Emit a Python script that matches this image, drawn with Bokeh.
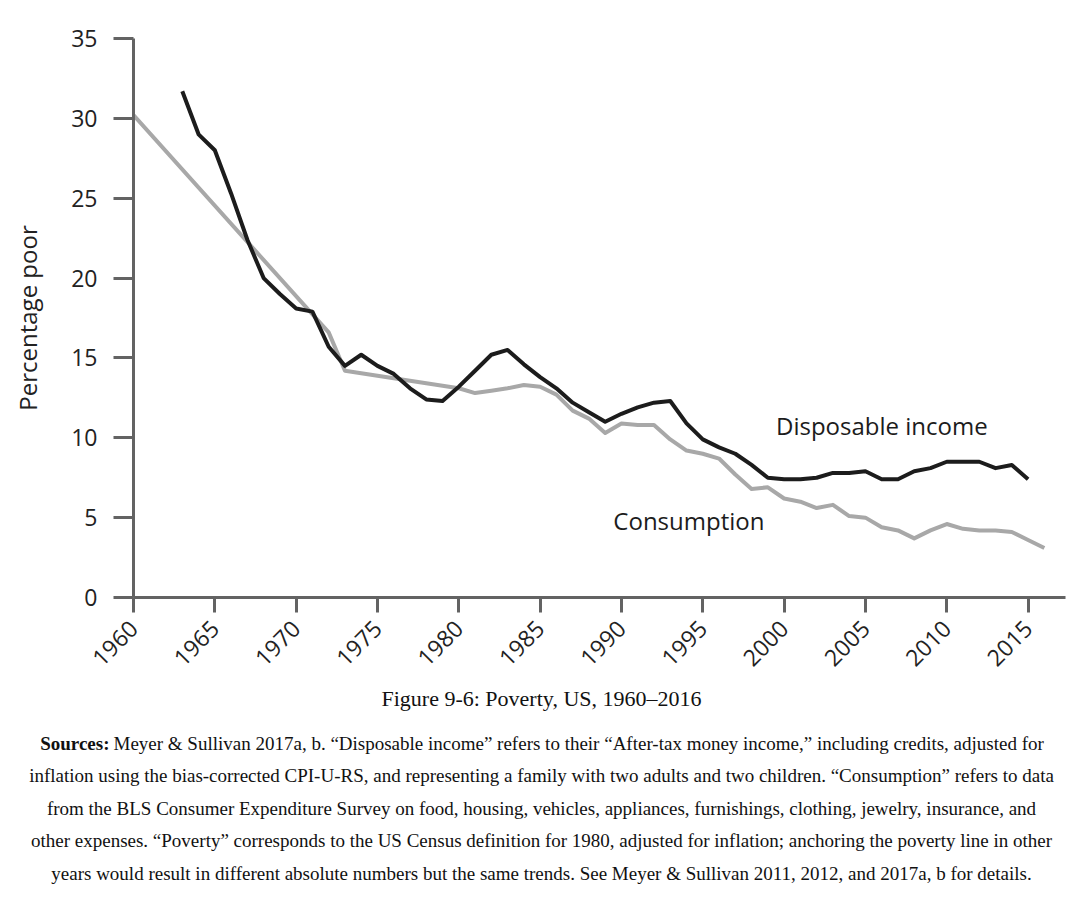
import math
from bokeh.plotting import figure
from bokeh.layouts import column
from bokeh.models import Label, FixedTicker, Range1d
from bokeh.embed import file_html
from bokeh.resources import INLINE

# ---- data ----
income_years = list(range(1963, 2016))
income = [31.7, 29.0, 28.0, 25.3, 22.4, 20.0, 19.0, 18.1, 17.9, 15.7,
          14.5, 15.2, 14.5, 14.0, 13.1, 12.4, 12.3, 13.2, 14.2, 15.2,
          15.5, 14.6, 13.8, 13.1, 12.2, 11.6, 11.0, 11.5, 11.9, 12.2,
          12.3, 10.9, 9.9, 9.4, 9.0, 8.3, 7.5, 7.4, 7.4, 7.5,
          7.8, 7.8, 7.9, 7.4, 7.4, 7.9, 8.1, 8.5, 8.5, 8.5,
          8.1, 8.3, 7.4]

consumption_years = [1960, 1972, 1973] + list(range(1980, 2017))
consumption = [30.2, 16.6, 14.2,
               13.1, 12.8, 12.95, 13.1, 13.3, 13.2, 12.7, 11.7, 11.2, 10.3,
               10.9, 10.8, 10.8, 9.9, 9.2, 9.0, 8.7, 7.7, 6.8, 6.9,
               6.2, 6.0, 5.6, 5.8, 5.1, 5.0, 4.4, 4.2, 3.7, 4.2,
               4.6, 4.3, 4.2, 4.2, 4.1, 3.6, 3.1]

x_ticks = list(range(1960, 2016, 5))
y_ticks = list(range(0, 36, 5))

caption = "Figure 9-6: Poverty, US, 1960\u20132016"
sources_bold = "Sources:"
sources_lines = [
    "Meyer & Sullivan 2017a, b. \u201cDisposable income\u201d refers to their \u201cAfter-tax money income,\u201d including credits, adjusted for",
    "inflation using the bias-corrected CPI-U-RS, and representing a family with two adults and two children. \u201cConsumption\u201d refers to data",
    "from the BLS Consumer Expenditure Survey on food, housing, vehicles, appliances, furnishings, clothing, jewelry, insurance, and",
    "other expenses. \u201cPoverty\u201d corresponds to the US Census definition for 1980, adjusted for inflation; anchoring the poverty line in other",
    "years would result in different absolute numbers but the same trends. See Meyer & Sullivan 2011, 2012, and 2017a, b for details.",
]

# ---- main chart ----
W = 1066
H1 = 680
p = figure(width=W, height=H1, output_backend="svg", toolbar_location=None,
           x_range=Range1d(1960, 2017.3), y_range=Range1d(0, 35),
           min_border_left=133, min_border_right=1,
           min_border_top=38, min_border_bottom=H1 - 597)
p.outline_line_color = None
p.grid.visible = False
p.background_fill_color = "white"
p.border_fill_color = "white"

axis_col = "#636363"
for ax in (p.xaxis[0], p.yaxis[0]):
    ax.axis_line_color = axis_col
    ax.axis_line_width = 3
    ax.major_tick_line_color = axis_col
    ax.major_tick_line_width = 3
    ax.minor_tick_line_color = None
    ax.major_tick_in = 0
    ax.major_label_text_font = "Open Sans"
    ax.major_label_text_color = "#222222"

p.xaxis.ticker = FixedTicker(ticks=x_ticks)
p.xaxis.major_tick_out = 15
p.xaxis.major_label_orientation = math.pi / 4
p.xaxis.major_label_standoff = 12
p.xaxis.major_label_text_font_size = "23px"

p.yaxis.ticker = FixedTicker(ticks=y_ticks)
p.yaxis.major_tick_out = 20
p.yaxis.major_label_standoff = 16
p.yaxis.major_label_text_font_size = "23px"
p.yaxis.axis_label = "Percentage poor"
p.yaxis.axis_label_text_font = "Open Sans"
p.yaxis.axis_label_text_font_size = "24px"
p.yaxis.axis_label_text_font_style = "normal"
p.yaxis.axis_label_text_color = "#222222"
p.yaxis.axis_label_standoff = 24

p.line(consumption_years, consumption, line_color="#a8a8a8", line_width=4,
       line_join="round")
p.line(income_years, income, line_color="#1c1c1c", line_width=4,
       line_join="round")

p.add_layout(Label(x=1999.5, y=10.8, text="Disposable income",
                   text_font="Open Sans", text_font_size="24px",
                   text_color="#1c1c1c", text_baseline="middle"))
p.add_layout(Label(x=1989.5, y=4.8, text="Consumption",
                   text_font="Open Sans", text_font_size="24px",
                   text_color="#1c1c1c", text_baseline="middle"))

# ---- caption panel: full-width frame, not aligned with the chart frame ----
H2 = 900 - H1
cap = figure(width=W, height=H2, output_backend="svg", toolbar_location=None,
             x_range=Range1d(0, W), y_range=Range1d(H2, 0),
             min_border=0, x_axis_type=None, y_axis_type=None)
cap.outline_line_color = None
cap.grid.visible = False
cap.frame_align = False

def cap_label(x, y, text, size, align="center", style="normal"):
    cap.add_layout(Label(x=x, y=y, text=text, text_font="Liberation Serif",
                         text_font_size=size, text_font_style=style,
                         text_color="#111111", text_align=align,
                         text_baseline="middle"))

cap_label(541, 18, caption, "22px")
src_y = [63, 95, 128, 160, 193]
cap_label(109, src_y[0], sources_bold, "19px", align="right", style="bold")
cap_label(113, src_y[0], sources_lines[0], "19px", align="left")
for ln, yy in zip(sources_lines[1:], src_y[1:]):
    cap_label(541, yy, ln, "19px")

layout = column(p, cap, spacing=0)
open("out.html", "w").write(file_html(layout, INLINE))
